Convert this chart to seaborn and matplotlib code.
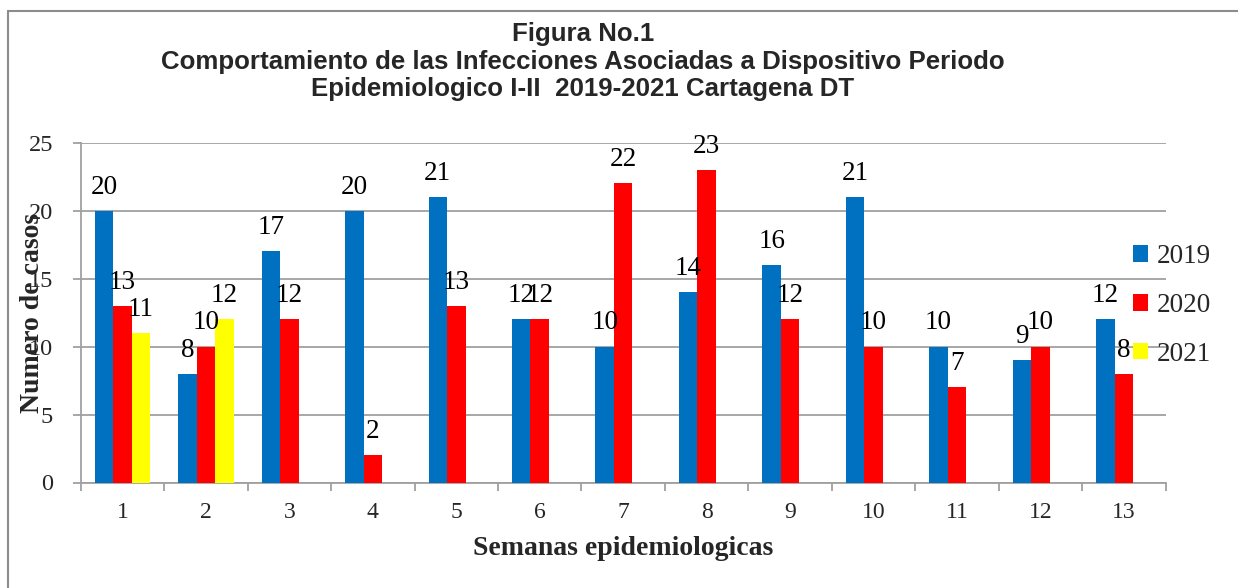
import numpy as np
import pandas as pd
import matplotlib
matplotlib.use("Agg")
import matplotlib.pyplot as plt
import seaborn as sns

weeks = ["1", "2", "3", "4", "5", "6", "7", "8", "9", "10", "11", "12", "13"]
years = ["2019", "2020", "2021"]
v2019 = [20, 8, 17, 20, 21, 12, 10, 14, 16, 21, 10, 9, 12]
v2020 = [13, 10, 12, 2, 13, 12, 22, 23, 12, 10, 7, 10, 8]
v2021 = [11, 12, np.nan, np.nan, np.nan, np.nan, np.nan, np.nan, np.nan, np.nan, np.nan, np.nan, np.nan]
colors = ["#0070C0", "#FF0000", "#FFFF00"]
title_lines = ["Figura No.1",
               "Comportamiento de las Infecciones Asociadas a Dispositivo Periodo",
               "Epidemiologico I-II  2019-2021 Cartagena DT"]

df = pd.DataFrame({
    "semana": weeks * 3,
    "year": ["2019"] * 13 + ["2020"] * 13 + ["2021"] * 13,
    "casos": v2019 + v2020 + v2021,
})
df = df.dropna()

sns.set_theme(style="white")
plt.rcParams["font.family"] = ["Liberation Serif", "DejaVu Serif"]

W, H = 1238, 588
fig = plt.figure(figsize=(W / 100, H / 100), dpi=100)
ax = fig.add_axes([80.7 / W, 1 - 482.5 / H, (1165.7 - 80.7) / W, (482.5 - 142.7) / H])

sns.barplot(data=df, x="semana", y="casos", hue="year", order=weeks, hue_order=years,
            palette=colors, width=0.665, gap=0, dodge=True, saturation=1,
            edgecolor="none", linewidth=0, ax=ax, zorder=3)

for cont in ax.containers:
    ax.bar_label(cont, fmt="%d", padding=8, fontsize=19.5, color="black")

ax.set_ylim(0, 25)
ax.set_xlim(-0.5, 12.5)
ax.set_yticks([0, 5, 10, 15, 20, 25])
ax.grid(axis="y", color="#a0a0a0", linewidth=1.3, zorder=0)
ax.grid(axis="x", visible=False)
for s in ["top", "right"]:
    ax.spines[s].set_visible(False)
for s in ["left", "bottom"]:
    ax.spines[s].set_color("#a0a0a0")
    ax.spines[s].set_linewidth(1.3)
ax.set_axisbelow(True)

ax.tick_params(axis="y", which="major", length=6, width=1.3, color="#a0a0a0",
               labelsize=17.5, pad=14, left=True)
ax.tick_params(axis="x", which="major", length=0, labelsize=17, pad=14, bottom=True)
ax.set_xticks(np.arange(-0.5, 13.0, 1.0), minor=True)
ax.tick_params(axis="x", which="minor", length=6, width=1.3, color="#a0a0a0", bottom=True)

ax.set_xlabel("Semanas epidemiologicas", fontsize=20, fontweight="bold")
ax.xaxis.set_label_coords(0.5, -0.158)
ax.set_ylabel("Numero de casos", fontsize=20, fontweight="bold")
ax.yaxis.set_label_coords(-0.033, 0.5)

leg = ax.legend(title=None, frameon=False, fontsize=19.5, loc="upper left",
                bbox_to_anchor=((1133 - 80.7) / (1165.7 - 80.7), (482.5 - 244) / (482.5 - 142.7)),
                handlelength=0.56, handleheight=0.56, handletextpad=0.3, labelspacing=0.88,
                borderaxespad=0, borderpad=0)

ys = [41, 68.5, 96]
for t, yb in zip(title_lines, ys):
    fig.text(583 / W, 1 - yb / H, t, ha="center", va="baseline", fontsize=18.6,
             fontweight="bold", family=["Liberation Sans", "DejaVu Sans"])

# chart border
fig.add_artist(plt.Line2D([8 / W, 8 / W], [0, 1 - 11 / H], color="#8c8c8c", lw=1.5))
fig.add_artist(plt.Line2D([8 / W, 1], [1 - 11 / H, 1 - 11 / H], color="#8c8c8c", lw=1.5))

fig.savefig("out.png", dpi=100)
